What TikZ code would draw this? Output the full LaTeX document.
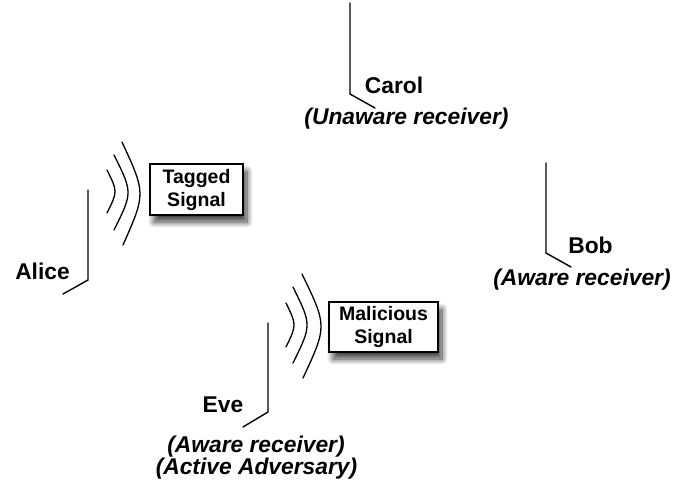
\documentclass[tikz,border=0pt]{standalone}
\usepackage{fontspec}
\setmainfont{Liberation Sans}
\usetikzlibrary{shadows.blur}
\begin{document}
\begin{tikzpicture}[x=1pt,y=-1pt,
  antenna/.style={line width=1.4pt,line cap=round,line join=miter},
  wave/.style={line width=1.3pt,line cap=round},
  namelbl/.style={anchor=base,inner sep=0pt,font=\fontsize{22.8}{27}\selectfont\bfseries},
  rolelbl/.style={anchor=base,inner sep=0pt,font=\fontsize{22.8}{27}\selectfont\bfseries\itshape},
  sigbox/.style={draw,line width=1.6pt,fill=white,align=center,inner sep=0pt,
    font=\fontsize{19.5}{23}\selectfont\bfseries,
    blur shadow={shadow xshift=4pt,shadow yshift=-7pt,shadow blur radius=6pt,shadow blur steps=14,shadow opacity=75}}
]
\useasboundingbox (0,0) rectangle (700,485);
% antennas
\coordinate (aliceTop) at (88,190);
\coordinate (aliceCorner) at (88,280);
\coordinate (aliceEnd) at (63,294);
\coordinate (carolTop) at (350,3);
\coordinate (carolCorner) at (350,94);
\coordinate (carolEnd) at (375,108);
\coordinate (bobTop) at (546,163);
\coordinate (bobCorner) at (546,253);
\coordinate (bobEnd) at (571,267);
\coordinate (eveTop) at (268,323);
\coordinate (eveCorner) at (268,412);
\coordinate (eveEnd) at (243,427);
\draw[antenna] (aliceTop) -- (aliceCorner) -- (aliceEnd);
\draw[antenna] (carolTop) -- (carolCorner) -- (carolEnd);
\draw[antenna] (bobTop) -- (bobCorner) -- (bobEnd);
\draw[antenna] (eveTop) -- (eveCorner) -- (eveEnd);
% waves of Alice
\draw[wave] (107,170) .. controls (117.7,191.5) .. (107,213);
\draw[wave] (114,155) .. controls (132.7,192.5) .. (114,230);
\draw[wave] (122,142) .. controls (145.8,193.5) .. (123,245);
% waves of Eve
\draw[wave] (286,303) .. controls (296.7,325) .. (286,347);
\draw[wave] (293,287) .. controls (311.7,325) .. (293,363);
\draw[wave] (302,274) .. controls (327.2,326) .. (303,378);
% signal boxes
\node[sigbox,minimum width=93pt,minimum height=51pt] (tagged) at (196.5,189.5) {Tagged\\Signal};
\node[sigbox,minimum width=109pt,minimum height=50pt] (malicious) at (383.5,327) {Malicious\\Signal};
% labels
\node[namelbl] (alice) at (42.5,279) {Alice};
\node[namelbl] (carol) at (394,93) {Carol};
\node[rolelbl] (carolrole) at (406.5,124) {(Unaware receiver)};
\node[namelbl] (bob) at (590.5,253) {Bob};
\node[rolelbl] (bobrole) at (582,285) {(Aware receiver)};
\node[namelbl] (eve) at (223,412) {Eve};
\node[rolelbl] (everole) at (256,452) {(Aware receiver)};
\node[rolelbl] (eveadv) at (256.5,474) {(Active Adversary)};
\end{tikzpicture}
\end{document}
